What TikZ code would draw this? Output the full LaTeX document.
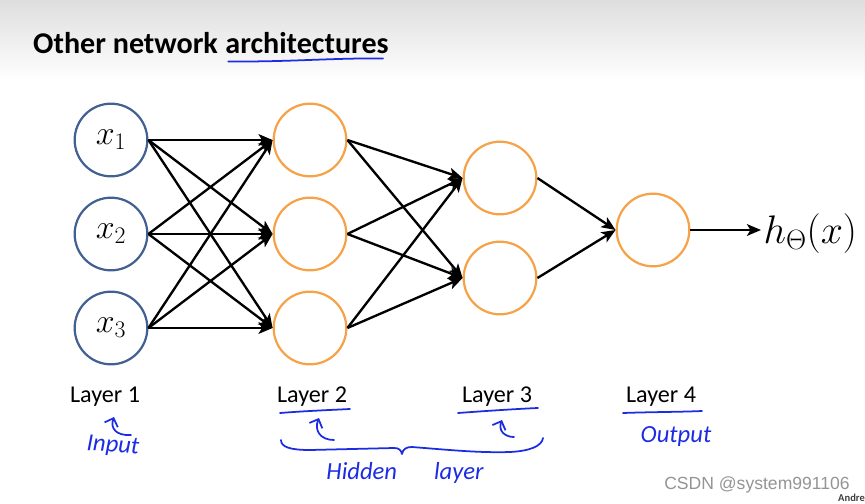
\RequirePackage{fix-cm}
\documentclass[tikz,border=0pt]{standalone}
\usepackage{fontspec}
\setmainfont{Carlito}
\newfontfamily\markfont{Liberation Sans}
\usetikzlibrary{arrows.meta,positioning}
\definecolor{inblue}{RGB}{66,96,146}
\definecolor{hidorange}{RGB}{246,162,72}
\definecolor{penblue}{RGB}{28,44,226}
\tikzset{
	unit/.style={circle, minimum size=62pt, inner sep=0pt, line width=1.9pt},
	inunit/.style={unit, draw=inblue},
	hidunit/.style={unit, draw=hidorange},
	layerlab/.style={font=\fontsize{20.6}{24}\selectfont, inner sep=1pt},
	pen/.style={penblue, line width=1.5pt, line cap=round, line join=round},
	pentext/.style={penblue, font=\itshape\fontsize{21}{24}\selectfont}
}
\begin{document}
\begin{tikzpicture}[x=0.03cm, y=-0.03cm, line join=round, >={Stealth[length=12pt,width=10pt,inset=3pt]}]
	\useasboundingbox (0,0) rectangle (865,504);
	\shade[top color=black!13, bottom color=white] (0,0) rectangle (865,80);
	% title
	\node[anchor=base west, inner sep=0pt, font=\bfseries\fontsize{25.7}{30}\selectfont] (t1) at (33,53) {Other network};
	\node[anchor=base west, inner sep=0pt, font=\bfseries\fontsize{25.7}{30}\selectfont] (t2) at ([xshift=6pt]t1.base east) {architectures};
	\draw[pen] ([shift={(3,8)}]t2.south west) .. controls (290,62) and (330,58) .. ([shift={(-6,5)}]t2.south east);
	% units
	\node[inunit] (a1) at (111,140) {\fontsize{29}{34}\selectfont$x_1$};
	\node[inunit] (a2) at (111,234) {\fontsize{29}{34}\selectfont$x_2$};
	\node[inunit] (a3) at (111,328) {\fontsize{29}{34}\selectfont$x_3$};
	\node[hidunit] (b1) at (310,140) {};
	\node[hidunit] (b2) at (310,234) {};
	\node[hidunit] (b3) at (310,328) {};
	\node[hidunit] (c1) at (500,178) {};
	\node[hidunit] (c2) at (500,278) {};
	\node[hidunit] (d1) at (653,230) {};
	\node[anchor=west, inner sep=2pt] (hx) at (761,234) {\fontsize{34}{40}\selectfont$h_\Theta(x)$};
	% connections
	\begin{scope}[line width=2pt]
	\draw[->] (a1.east) -- (b1.west); \draw[->] (a1.east) -- (b2.west); \draw[->] (a1.east) -- (b3.west);
	\draw[->] (a2.east) -- (b1.west); \draw[->] (a2.east) -- (b2.west); \draw[->] (a2.east) -- (b3.west);
	\draw[->] (a3.east) -- (b1.west); \draw[->] (a3.east) -- (b2.west); \draw[->] (a3.east) -- (b3.west);
	\draw[->] (b1.east) -- (c1.west); \draw[->] (b1.east) -- (c2.west);
	\draw[->] (b2.east) -- (c1.west); \draw[->] (b2.east) -- (c2.west);
	\draw[->] (b3.east) -- (c1.west); \draw[->] (b3.east) -- (c2.west);
	\draw[->] (c1.east) -- (d1.west); \draw[->] (c2.east) -- (d1.west);
	\draw[->] (d1.east) -- (d1.east -| hx.west);
	\end{scope}
	% layer labels
	\node[layerlab] (l1) at (105,397) {Layer 1};
	\node[layerlab] (l2) at (312,397) {Layer 2};
	\node[layerlab] (l3) at (497,397) {Layer 3};
	\node[layerlab] (l4) at (661,397) {Layer 4};
	% hand notes
	\draw[pen] (280,413) .. controls (305,411) and (330,410) .. (350,409);
	\draw[pen] (458,413) .. controls (485,411) and (515,409) .. (538,408);
	\draw[pen] (623,413) .. controls (650,412) and (680,412) .. (702,411);
	\draw[pen, <-, >={Straight Barb[length=6pt,width=12pt]}] (114,417) .. controls (110,428) and (116,436) .. (131,435);
	\draw[pen, <-, >={Straight Barb[length=6pt,width=12pt]}] (319,418) .. controls (314,430) and (320,440) .. (334,440);
	\draw[pen, <-, >={Straight Barb[length=6pt,width=12pt]}] (502,420) .. controls (498,430) and (504,437) .. (514,437);
	\draw[pen] (281,440) .. controls (281,447) and (290,450) .. (310,450) -- (394,448) .. controls (399,448) and (401,450) .. (402,454)
		.. controls (403,449) and (406,447) .. (412,447) .. controls (450,450) and (480,453) .. (510,452) .. controls (530,451) and (542,446) .. (543,438);
	\node[pentext, rotate=-4] (inp) at (113,446) {Input};
	\node[pentext] (hid) at (405,473) {Hidden\hspace{1.5em}layer};
	\node[pentext] (outp) at (676,436) {Output};
	% watermark
	\node[text=black!42, font=\markfont\fontsize{15}{18}\selectfont] (wm) at (757,485) {CSDN @system991106};
	\node[anchor=west, inner sep=0pt, font=\bfseries\fontsize{9}{11}\selectfont, text=black!75] (au) at (838,498) {Andre};
\end{tikzpicture}
\end{document}
